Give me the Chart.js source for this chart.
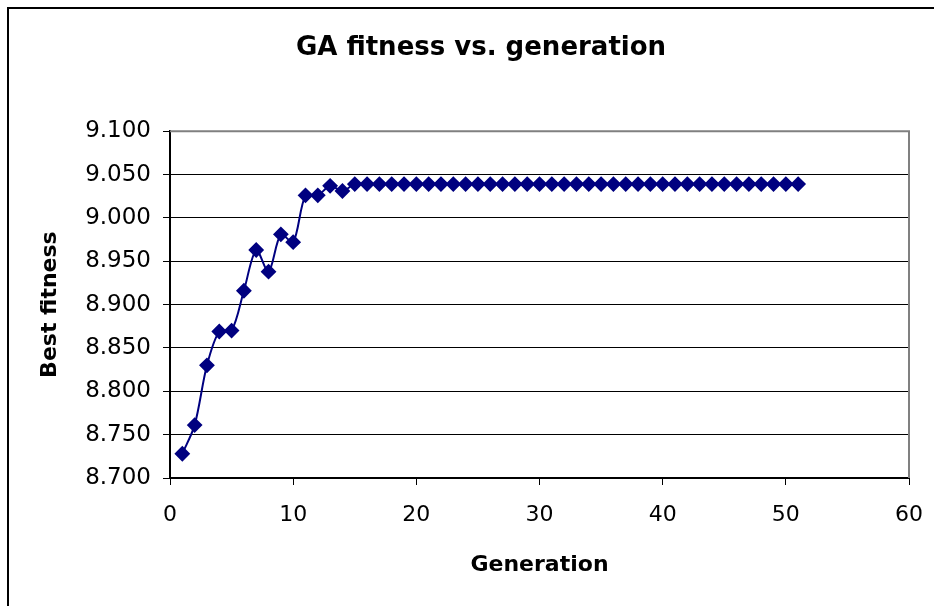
<!DOCTYPE html>
<html>
<head>
<meta charset="utf-8">
<script src="https://cdn.jsdelivr.net/npm/chart.js@4/dist/chart.umd.min.js"></script>
<style>
  body { margin: 0; background: #fff; overflow: hidden; }
  #myChart { display: block; }
</style>
</head>
<body>
<canvas id="myChart" width="940" height="606"></canvas>
<script>
// generation numbers
var generations = [1, 2, 3, 4, 5, 6, 7, 8, 9, 10,
    11, 12, 13, 14, 15, 16, 17, 18, 19, 20,
    21, 22, 23, 24, 25, 26, 27, 28, 29, 30,
    31, 32, 33, 34, 35, 36, 37, 38, 39, 40,
    41, 42, 43, 44, 45, 46, 47, 48, 49, 50, 51];

// best fitness per generation
var bestFitness = [8.728, 8.761, 8.830, 8.869, 8.870, 8.916, 8.963, 8.938, 8.981, 8.972,
    9.026, 9.026, 9.037, 9.031, 9.039, 9.039, 9.039, 9.039, 9.039, 9.039,
    9.039, 9.039, 9.039, 9.039, 9.039, 9.039, 9.039, 9.039, 9.039, 9.039,
    9.039, 9.039, 9.039, 9.039, 9.039, 9.039, 9.039, 9.039, 9.039, 9.039,
    9.039, 9.039, 9.039, 9.039, 9.039, 9.039, 9.039, 9.039, 9.039, 9.039, 9.039];

var xTicks = [0, 10, 20, 30, 40, 50, 60];
var yMin = 8.7, yMax = 9.1, yStep = 0.05;

var points = [];
for (var i = 0; i < generations.length; i++) {
    points.push({ x: generations[i], y: bestFitness[i] });
}

// outer chart frame + gray top/right edge of the plot area
var frames = {
    id: 'frames',
    beforeDraw: function(chart) {
        var c = chart.ctx;
        c.save();
        c.fillStyle = '#fff';
        c.fillRect(0, 0, chart.width, chart.height);
        c.strokeStyle = '#000';
        c.lineWidth = 2;
        c.beginPath();
        c.moveTo(8, chart.height + 5);
        c.lineTo(8, 8);
        c.lineTo(chart.width + 5, 8);
        c.stroke();
        c.restore();
    },
    beforeDatasetsDraw: function(chart) {
        var a = chart.chartArea, c = chart.ctx;
        c.save();
        c.strokeStyle = '#808080';
        c.lineWidth = 2;
        c.beginPath();
        c.moveTo(a.left, a.top);
        c.lineTo(a.right, a.top);
        c.lineTo(a.right, a.bottom);
        c.stroke();
        c.restore();
    }
};

Chart.defaults.font.family = "'DejaVu Sans', 'Liberation Sans', Arial, sans-serif";
Chart.defaults.color = '#000';

var ctx = document.getElementById('myChart').getContext('2d');
var chart = new Chart(ctx, {
    type: 'scatter',
    data: {
        datasets: [{
            label: 'Best fitness',
            data: points,
            showLine: true,
            tension: 0.3,
            borderColor: '#000080',
            borderWidth: 2,
            backgroundColor: '#000080',
            pointStyle: 'rectRot',
            pointRadius: 6.5,
            pointHoverRadius: 6.5
        }]
    },
    options: {
        responsive: false,
        animation: false,
        // left padding pushes the title centre to the right like the original
        layout: { padding: { left: 41, right: 19, top: 0, bottom: 0 } },
        plugins: {
            legend: { display: false },
            tooltip: { enabled: false },
            title: {
                display: true,
                text: 'GA fitness vs. generation',
                font: { size: 26, weight: 'bold' },
                padding: { top: 33, bottom: 67 }
            }
        },
        scales: {
            x: {
                type: 'linear',
                min: 0,
                max: 60,
                afterBuildTicks: function(scale) {
                    scale.ticks = xTicks.map(function(v) { return { value: v }; });
                },
                afterFit: function(scale) { scale.height = 128; },
                grid: { drawOnChartArea: false, drawTicks: true, tickLength: 7, color: '#000' },
                border: { color: '#000', width: 2 },
                ticks: { font: { size: 22 }, padding: 17, maxRotation: 0 },
                title: {
                    display: true,
                    text: 'Generation',
                    font: { size: 22, weight: 'bold' },
                    padding: { top: 28, bottom: 28 }
                }
            },
            y: {
                min: yMin,
                max: yMax,
                afterFit: function(scale) { scale.width = 129; },
                grid: { color: '#000', lineWidth: 1, tickLength: 7 },
                border: { color: '#000', width: 2 },
                ticks: {
                    stepSize: yStep,
                    font: { size: 23 },
                    padding: 12,
                    callback: function(v) { return v.toFixed(3); }
                },
                title: {
                    display: true,
                    text: 'Best fitness',
                    font: { size: 22, weight: 'bold' },
                    padding: { top: -4, bottom: -4 }
                }
            }
        }
    },
    plugins: [frames]
});
</script>
</body>
</html>
